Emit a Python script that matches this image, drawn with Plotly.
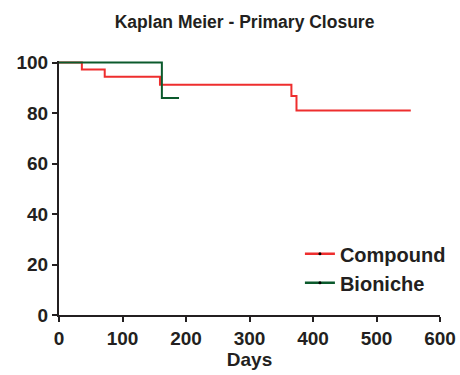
import plotly.graph_objects as go

title = "Kaplan Meier - Primary Closure"
compound_days = [0, 36, 36, 72, 72, 159, 159, 366, 366, 374, 374, 554]
compound_surv = [100, 100, 97.2, 97.2, 94.4, 94.4, 91.2, 91.2, 86.7, 86.7, 81.0, 81.0]
bioniche_days = [0, 162, 162, 189]
bioniche_surv = [100, 100, 85.9, 85.9]
x_ticks = [0, 100, 200, 300, 400, 500, 600]
y_ticks = [0, 20, 40, 60, 80, 100]

RED = "#ee2e2e"
GREEN = "#0b5a2c"
INK = "#231f20"
FONT = "Liberation Sans, Arial, sans-serif"

fig = go.Figure()
fig.add_trace(go.Scatter(x=compound_days, y=compound_surv, mode="lines",
                         line=dict(color=RED, width=2), showlegend=False, cliponaxis=False))
fig.add_trace(go.Scatter(x=bioniche_days, y=bioniche_surv, mode="lines",
                         line=dict(color=GREEN, width=2), showlegend=False, cliponaxis=False))
# legend entries
fig.add_trace(go.Scatter(x=[None], y=[None], mode="lines+markers", name="<b>Compound</b>",
                         legendgroup="a",
                         line=dict(color=RED, width=2.5), marker=dict(color="black", size=3)))
fig.add_trace(go.Scatter(x=[None], y=[None], mode="lines+markers", name="<b>Bioniche</b>",
                         legendgroup="b",
                         line=dict(color=GREEN, width=2.5), marker=dict(color="black", size=3)))

fig.update_layout(
    width=460, height=375,
    margin=dict(l=59, r=20, t=61, b=60, autoexpand=False),
    paper_bgcolor="white", plot_bgcolor="white",
    font=dict(family=FONT, color=INK, size=14),
    title=dict(text="<b>" + title + "</b>", xref="paper", x=0.487, xanchor="center",
               yref="container", y=0.942, yanchor="middle",
               font=dict(size=17.5, family=FONT, color=INK)),
    legend=dict(xref="container", x=0.652, xanchor="left", y=0.05, yanchor="bottom",
                font=dict(size=20, family=FONT, color=INK),
                bgcolor="rgba(0,0,0,0)", traceorder="grouped", tracegroupgap=0, itemwidth=30),
    showlegend=True,
)
fig.update_xaxes(range=[0, 600], tickvals=x_ticks, ticktext=["<b>%d</b>" % v for v in x_ticks],
                 automargin=False,
                 showgrid=False, zeroline=False, showline=True, linecolor=INK, linewidth=2,
                 ticks="outside", ticklen=5, tickwidth=2, tickcolor=INK,
                 tickfont=dict(size=19, family=FONT, color=INK),
                 title=dict(text="<b>Days</b>", font=dict(size=19, family=FONT, color=INK), standoff=2))
fig.update_yaxes(range=[0, 100.6], tickvals=y_ticks, ticktext=["<b>%d</b>" % v for v in y_ticks],
                 automargin=False,
                 showgrid=False, zeroline=False, showline=True, linecolor=INK, linewidth=2,
                 ticks="outside", ticklen=5, tickwidth=2, tickcolor=INK,
                 tickfont=dict(size=19, family=FONT, color=INK))

fig.write_html("out.html", config={"displayModeBar": False},
               post_script="document.body.style.margin='0';")
